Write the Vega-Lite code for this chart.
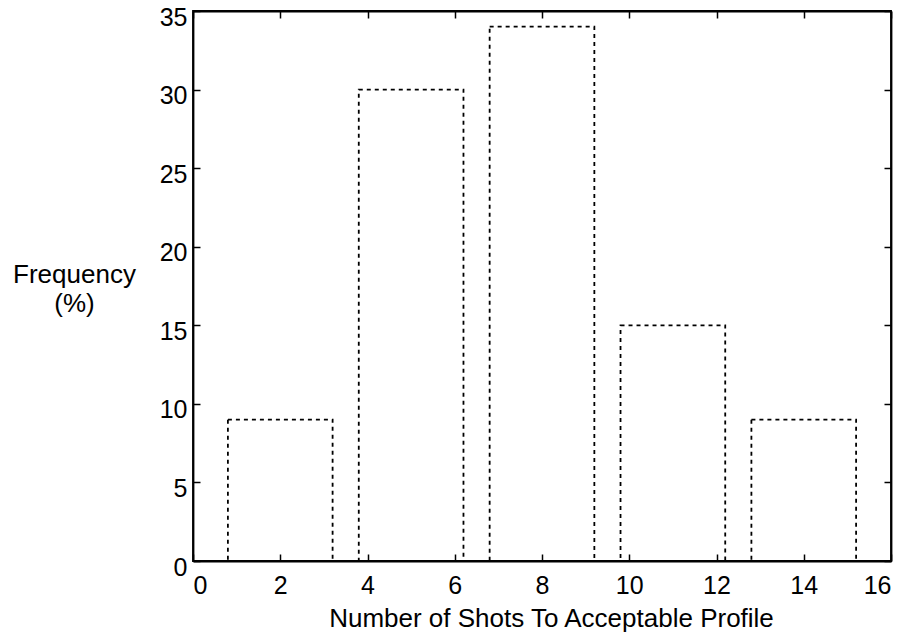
{
  "$schema": "https://vega.github.io/schema/vega-lite/v6.json",
  "width": 698,
  "height": 550,
  "autosize": {"type": "none"},
  "padding": {"left": 193, "top": 11, "right": 20, "bottom": 75},
  "background": "white",
  "config": {
    "font": "Liberation Sans",
    "view": {"stroke": "black", "strokeWidth": 1.8},
    "axis": {
      "domainColor": "black",
      "domainWidth": 1.8,
      "tickColor": "black",
      "tickWidth": 1.5,
      "tickSize": -7,
      "labelFontSize": 25,
      "labelColor": "black",
      "titleFontSize": 26,
      "titleFontWeight": "normal",
      "titleColor": "black",
      "grid": false
    }
  },
  "data": {
    "values": [
      {"lo": 0.8, "hi": 3.2, "freq": 9},
      {"lo": 3.8, "hi": 6.2, "freq": 30},
      {"lo": 6.8, "hi": 9.2, "freq": 34},
      {"lo": 9.8, "hi": 12.2, "freq": 15},
      {"lo": 12.8, "hi": 15.2, "freq": 9}
    ]
  },
  "resolve": {"axis": {"x": "independent", "y": "independent"}},
  "layer": [
    {
      "mark": {"type": "rect", "fill": "white", "fillOpacity": 0, "stroke": "black", "strokeWidth": 1.8, "strokeDash": [4, 4]},
      "encoding": {
        "x": {"field": "lo", "type": "quantitative", "scale": {"domain": [0, 16], "nice": false},
          "axis": {"values": [0, 2, 4, 6, 8, 10, 12, 14, 16], "labelPadding": 19,
            "title": "Number of Shots To Acceptable Profile", "titleX": 358, "titleY": 65, "titleAlign": "center", "titleBaseline": "alphabetic"}},
        "x2": {"field": "hi"},
        "y": {"field": "freq", "type": "quantitative", "scale": {"domain": [0, 35], "nice": false},
          "axis": {"values": [0, 5, 10, 15, 20, 25, 30, 35], "labelPadding": 13, "labelOffset": 6, "labelBaseline": "middle",
            "title": ["Frequency", "(%)"], "titleAngle": 0,
            "titleAlign": "center", "titleBaseline": "alphabetic", "titleX": -119, "titleY": 271, "titleLineHeight": 29}},
        "y2": {"datum": 0}
      }
    },
    {
      "mark": {"type": "rect", "opacity": 0},
      "encoding": {
        "x": {"field": "lo", "type": "quantitative", "scale": {"domain": [0, 16], "nice": false},
          "axis": {"orient": "top", "values": [0, 2, 4, 6, 8, 10, 12, 14, 16], "labels": false, "title": null}},
        "x2": {"field": "hi"},
        "y": {"field": "freq", "type": "quantitative", "scale": {"domain": [0, 35], "nice": false},
          "axis": {"orient": "right", "values": [0, 5, 10, 15, 20, 25, 30, 35], "labels": false, "title": null}},
        "y2": {"datum": 0}
      }
    }
  ]
}
